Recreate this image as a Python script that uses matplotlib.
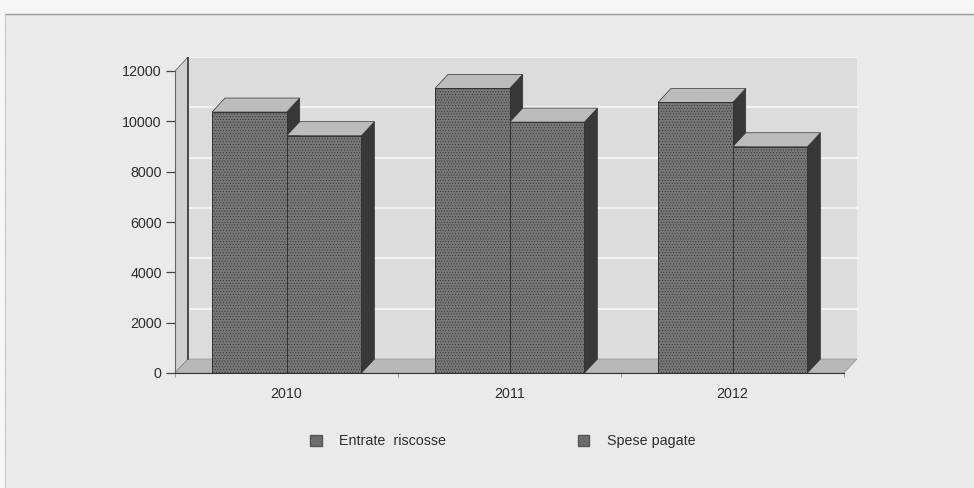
import matplotlib
matplotlib.use("Agg")
import matplotlib.pyplot as plt
from matplotlib.patches import Polygon, Rectangle, Patch

plt.rcParams["font.family"] = ["Liberation Sans", "DejaVu Sans"]
plt.rcParams["hatch.linewidth"] = 0.4
plt.rcParams["hatch.color"] = "#4a4a4a"

years = ["2010", "2011", "2012"]
entrate = [10370, 11310, 10750]
spese = [9430, 9970, 8990]
series_names = ["Entrate  riscosse", "Spese pagate"]
y_ticks = [0, 2000, 4000, 6000, 8000, 10000, 12000]

W, H = 974, 488
DX = 13 / 223   # depth in category units
DY = 14 / 302 * 12000  # depth in value units
BAR_W = 0.335
PAD = 0.166
TEXT = "#2e2e2e"
EDGE = "#333333"
FONT = 10.3

fig = plt.figure(figsize=(W / 100, H / 100), dpi=100, facecolor="#f6f6f6")

# page background, scanned grey panel
bg = fig.add_axes([0, 0, 1, 1], zorder=0)
bg.set_xlim(0, W)
bg.set_ylim(H, 0)
bg.axis("off")
bg.add_patch(Rectangle((5, 14), W - 5, H - 14, fc="#e9e9e9", hatch="........", ec="#f1f1f1", lw=0))
bg.plot([5, W], [14, 14], color="#9a9a9a", lw=1)
bg.plot([5, 5], [14, H], color="#d0d0d0", lw=1)

# axes box: front plane runs 175..844 px, 373..71 px
left, right, bottom, top = 175, 858, 373, 57
ax = fig.add_axes([left / W, 1 - bottom / H, (right - left) / W, (bottom - top) / H], zorder=1)
ax.set_xlim(0, (right - left) / 223)
ax.set_ylim(0, (bottom - top) / 302 * 12000)
ax.patch.set_alpha(0)

# back wall, left wall, floor
ax.add_patch(Polygon([(DX, DY), (3 + DX, DY), (3 + DX, 12000 + DY), (DX, 12000 + DY)],
                     fc="#dcdcdc", ec="none", lw=0, zorder=1))
for v in y_ticks[1:]:
    ax.plot([DX, 3 + DX], [v + DY, v + DY], color="#f8f8f8", lw=1.2, zorder=2)
ax.add_patch(Polygon([(0, 0), (DX, DY), (DX, 12000 + DY), (0, 12000)],
                     fc="#cfcfcf", ec="#666666", lw=0.6, zorder=2))
ax.add_patch(Polygon([(0, 0), (3, 0), (3 + DX, DY), (DX, DY)],
                     fc="#b8b8b8", ec="#8a8a8a", lw=0.4, zorder=2))
ax.plot([DX, DX], [DY, 12000 + DY], color="#3a3a3a", lw=1.2, zorder=3)


def draw_bar(x, value, z):
    ax.add_patch(Polygon([(x + BAR_W, 0), (x + BAR_W + DX, DY), (x + BAR_W + DX, value + DY), (x + BAR_W, value)],
                         fc="#383838", ec=EDGE, lw=0.5, zorder=z))
    ax.add_patch(Polygon([(x, value), (x + DX, value + DY), (x + BAR_W + DX, value + DY), (x + BAR_W, value)],
                         fc="#bcbcbc", ec=EDGE, lw=0.5, zorder=z))
    ax.bar(x, value, BAR_W, align="edge", color="#777777", edgecolor=EDGE, lw=0.7,
           hatch="......", zorder=z)


for i in range(len(years)):
    draw_bar(i + PAD, entrate[i], 4 + i * 2)
    draw_bar(i + PAD + BAR_W, spese[i], 5 + i * 2)

# axes lines and ticks
for s in ["top", "right"]:
    ax.spines[s].set_visible(False)
ax.spines["left"].set_bounds(0, 12000)
ax.spines["left"].set_color("#666666")
ax.spines["bottom"].set_bounds(0, 3)
ax.spines["bottom"].set_color("#333333")
ax.spines["bottom"].set_zorder(20)
ax.set_yticks(y_ticks)
ax.set_xticks([0, 1, 2, 3])
ax.set_xticklabels([])
ax.set_xticks([0.5, 1.5, 2.5], minor=True)
ax.set_xticklabels(years, minor=True)
ax.tick_params(axis="x", which="minor", length=0, pad=10, labelsize=FONT, labelcolor=TEXT)
ax.tick_params(axis="x", which="major", length=3, color="#a0a0a0")
ax.tick_params(axis="y", length=6.5, width=0.9, color="#444444", pad=3, labelsize=FONT, labelcolor=TEXT)

handles = [Patch(fc="#707070", ec="#555555", hatch="......", label=n) for n in series_names]
fig.legend(handles=handles, loc="center", bbox_to_anchor=(503 / W, 1 - 441 / H), ncol=2,
           frameon=False, fontsize=FONT, labelcolor=TEXT, handlelength=0.8, handleheight=0.8,
           handletextpad=1.25, columnspacing=9.2)

fig.savefig("out.png", dpi=100, facecolor=fig.get_facecolor())
plt.close(fig)
